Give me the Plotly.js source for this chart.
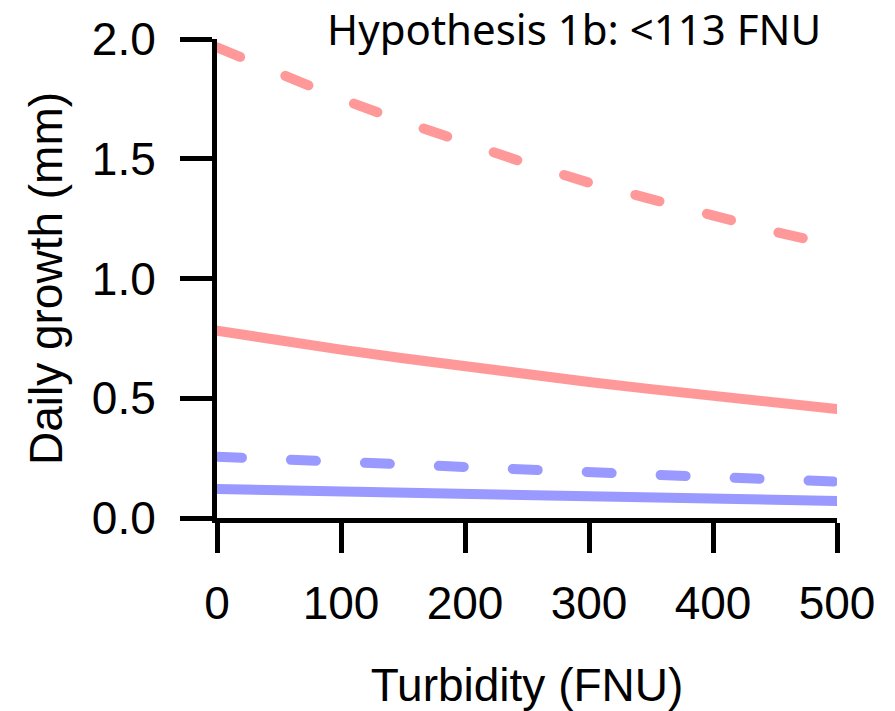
<!DOCTYPE html>
<html>
<head>
<meta charset="utf-8">
<script src="https://cdn.plot.ly/plotly-3.0.1.min.js"></script>
<style>
  html, body { margin: 0; padding: 0; background: #ffffff; }
  #chart { width: 895px; height: 711px; }
  .scatterlayer .js-line { stroke-linecap: round; }
</style>
</head>
<body>
<div id="chart"></div>
<script>
// Turbidity (FNU)
const turbidity = [0, 50, 100, 150, 200, 250, 300, 350, 400, 450, 500];
// Daily growth (mm)
const redSolid  = [0.782, 0.740, 0.703, 0.667, 0.632, 0.599, 0.568, 0.538, 0.510, 0.483, 0.455];
const redDashed = [1.965, 1.855, 1.750, 1.655, 1.565, 1.480, 1.400, 1.330, 1.260, 1.195, 1.135];
const blueSolid = [0.121, 0.115, 0.110, 0.104, 0.099, 0.094, 0.089, 0.084, 0.080, 0.075, 0.071];
const blueDashed = [0.256, 0.244, 0.232, 0.221, 0.211, 0.201, 0.191, 0.181, 0.171, 0.161, 0.152];

const xTicks = [0, 100, 200, 300, 400, 500];
const yTicks = [0, 0.5, 1.0, 1.5, 2.0];

const red = '#ff9999';
const blue = '#9999ff';
const dashPattern = '25px,49px';

const traces = [
  { x: turbidity, y: redDashed, mode: 'lines', name: 'Red dashed',
    line: { color: red, width: 10, dash: dashPattern } },
  { x: turbidity, y: redSolid, mode: 'lines', name: 'Red solid',
    line: { color: red, width: 10 } },
  { x: turbidity, y: blueDashed, mode: 'lines', name: 'Blue dashed',
    line: { color: blue, width: 10, dash: dashPattern } },
  { x: turbidity, y: blueSolid, mode: 'lines', name: 'Blue solid',
    line: { color: blue, width: 10 } }
];

const tickFont = { family: 'Liberation Sans, Arial, sans-serif', size: 46, color: '#000000' };
const titleFont = { family: 'Liberation Sans, Arial, sans-serif', size: 46, color: '#000000' };

const layout = {
  width: 895, height: 711,
  margin: { l: 217, r: 58, t: 39, b: 193 },
  paper_bgcolor: '#ffffff', plot_bgcolor: '#ffffff',
  showlegend: false,
  title: {
    text: 'Hypothesis 1b: <113 FNU',
    font: { family: 'Noto Sans, sans-serif', size: 42, color: '#000000' },
    xref: 'paper', x: 0.576, xanchor: 'center',
    yref: 'container', y: 0.957, yanchor: 'middle'
  },
  xaxis: {
    range: [0, 500], tickvals: xTicks, ticktext: xTicks.map(String),
    showgrid: false, zeroline: false,
    showline: true, linecolor: '#000000', linewidth: 5,
    ticks: 'outside', ticklen: 30, tickwidth: 5, tickcolor: '#000000',
    ticklabelstandoff: 11,
    tickfont: tickFont,
    title: { text: 'Turbidity (FNU)', font: titleFont, standoff: 50 }
  },
  yaxis: {
    range: [0, 2], tickvals: yTicks, ticktext: yTicks.map(v => v.toFixed(1)),
    showgrid: false, zeroline: false,
    showline: true, linecolor: '#000000', linewidth: 5,
    ticks: 'outside', ticklen: 32, tickwidth: 5, tickcolor: '#000000',
    ticklabelstandoff: 15,
    tickfont: tickFont,
    title: { text: 'Daily growth (mm)', font: titleFont, standoff: 16 }
  }
};

Plotly.newPlot('chart', traces, layout, { displayModeBar: false, staticPlot: true });
</script>
</body>
</html>
